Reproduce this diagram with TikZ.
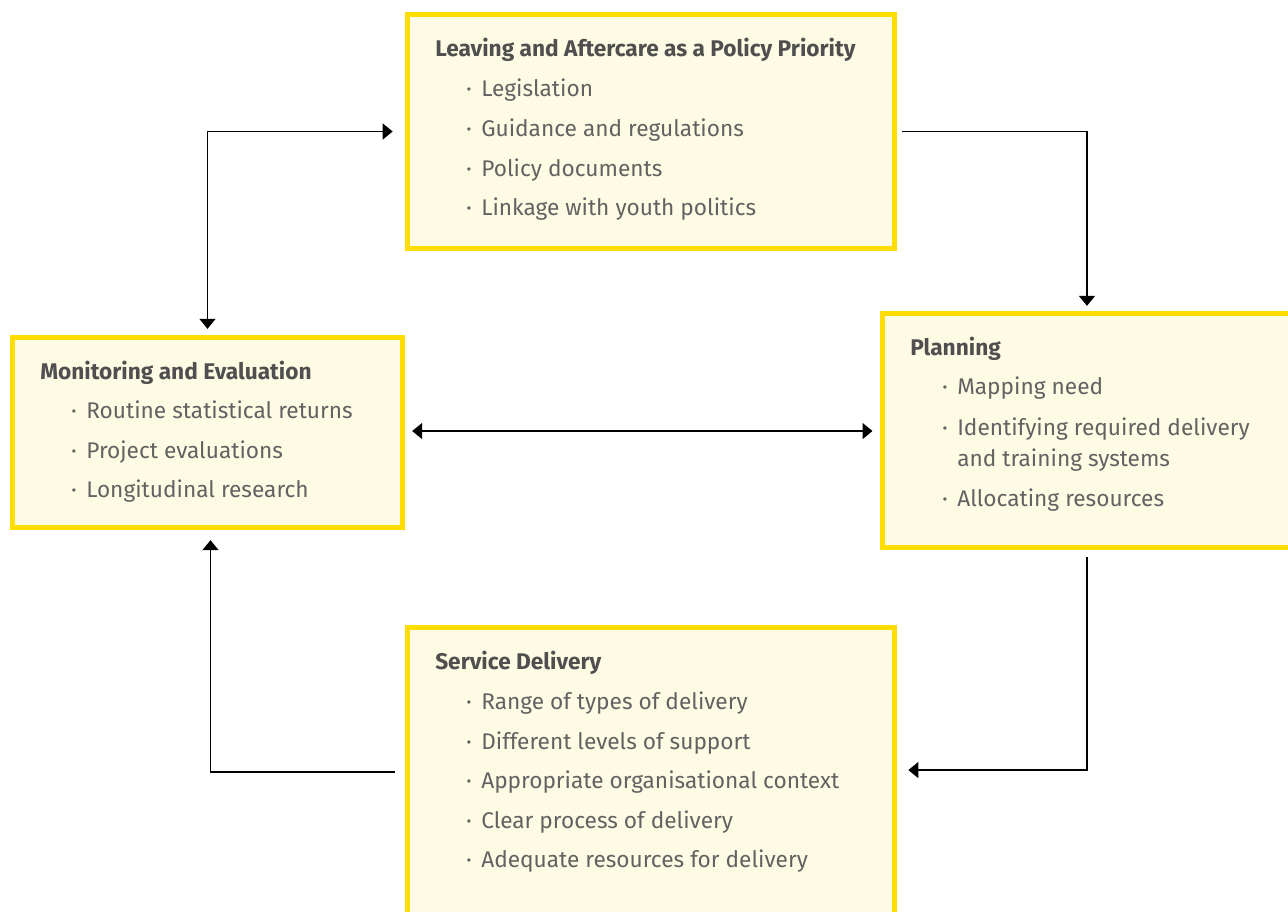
\documentclass[tikz,border=0pt]{standalone}
\usepackage{fontspec}
\setmainfont{Fira Sans}
\usetikzlibrary{arrows.meta}
\definecolor{ybord}{HTML}{FFDD00}
\definecolor{yfill}{HTML}{FEFBE4}
\definecolor{hgray}{HTML}{4F4F4F}
\definecolor{igray}{HTML}{626262}
\newcommand{\itemtext}[1]{\llap{\raisebox{1.2pt}{\fontsize{11}{11}\selectfont •}\hspace{7.5pt}}#1}
\begin{document}
\begin{tikzpicture}[x=0.75pt,y=-0.75pt,
  panel/.style={draw=ybord, line width=3.75pt, fill=yfill, inner sep=0pt, outer sep=0pt},
  hdr/.style={anchor=base west, inner sep=0pt, text=hgray, font=\bfseries\fontsize{17}{20}\selectfont},
  itm/.style={anchor=base west, inner sep=0pt, text=igray, font=\fontsize{17}{20}\selectfont},
  arr/.style={line width=1pt, black, -{Triangle[length=7.5pt,width=12pt]}},
  darr/.style={line width=1pt, black, {Triangle[length=7.5pt,width=12pt]}-{Triangle[length=7.5pt,width=12pt]}}]
\useasboundingbox (0,0) rectangle (1288,911);
\fill[white] (0,0) rectangle (1288,911);
% panels
\node[panel, minimum width=365pt, minimum height=175pt] (pol) at (651,131.5) {};
\node[panel, minimum width=292pt, minimum height=142pt] (mon) at (207.5,432.5) {};
\node[panel, minimum width=313.5pt, minimum height=175pt] (plan) at (1091.5,430.5) {};
\node[panel, minimum width=365pt, minimum height=242.25pt] (serv) at (651,789) {};
% texts: policy
\node[hdr] (polh) at (435,56) {Leaving and Aftercare as a Policy Priority};
\node[itm] (pol1) at (481,96) {\itemtext{Legislation}};
\node[itm] (pol2) at (481,136) {\itemtext{Guidance and regulations}};
\node[itm] (pol3) at (481,176) {\itemtext{Policy documents}};
\node[itm] (pol4) at (481,215) {\itemtext{Linkage with youth politics}};
% monitoring
\node[hdr] (monh) at (40,379) {Monitoring and Evaluation};
\node[itm] (mon1) at (86,418) {\itemtext{Routine statistical returns}};
\node[itm] (mon2) at (86,458) {\itemtext{Project evaluations}};
\node[itm] (mon3) at (86,497) {\itemtext{Longitudinal research}};
% planning
\node[hdr] (planh) at (910,355) {Planning};
\node[itm] (plan1) at (957,394) {\itemtext{Mapping need}};
\node[itm] (plan2) at (957,435) {\itemtext{Identifying required delivery}};
\node[itm] (plan2b) at (957,466) {and training systems};
\node[itm] (plan3) at (957,506) {\itemtext{Allocating resources}};
% service
\node[hdr] (servh) at (435,669) {Service Delivery};
\node[itm] (serv1) at (481,709) {\itemtext{Range of types of delivery}};
\node[itm] (serv2) at (481,749) {\itemtext{Different levels of support}};
\node[itm] (serv3) at (481,788) {\itemtext{Appropriate organisational context}};
\node[itm] (serv4) at (481,828) {\itemtext{Clear process of delivery}};
\node[itm] (serv5) at (481,867) {\itemtext{Adequate resources for delivery}};
% connectors
\draw[darr, shorten <=6.75pt, shorten >=11.25pt] (mon.north) |- (pol.west);
\draw[arr, shorten <=6pt, shorten >=6pt] (pol.east) -| ([xshift=-3.4pt]plan.north);
\draw[darr, shorten <=7.5pt, shorten >=7.5pt] ([yshift=1.1pt]mon.east) -- ([yshift=1.1pt]mon.east -| plan.west);
\draw[arr, shorten <=7.5pt, shorten >=10.5pt] ([xshift=-3.4pt]plan.south) |- ([yshift=14.2pt]serv.east);
\draw[arr, shorten <=9.75pt, shorten >=9.75pt] ([yshift=12.7pt]serv.west) -| ([xshift=2.25pt]mon.south);
\end{tikzpicture}
\end{document}
